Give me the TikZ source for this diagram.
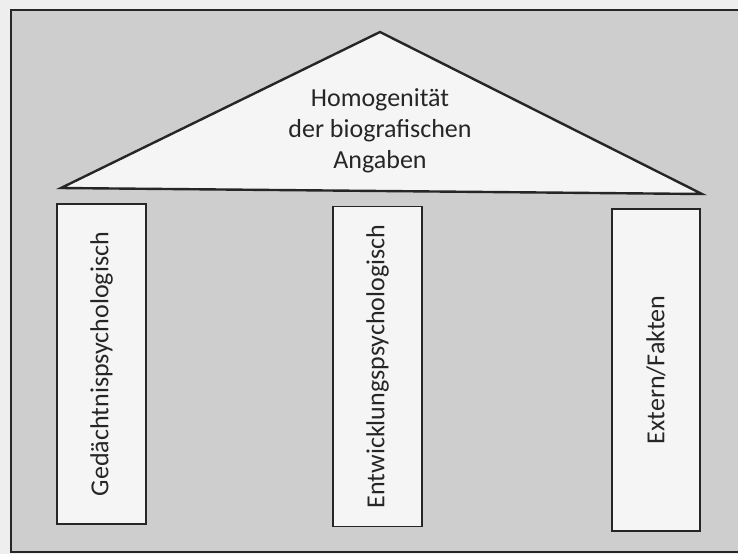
\documentclass[tikz,border=0pt]{standalone}
\usepackage{fontspec}
\setmainfont{Carlito}
\definecolor{scangray}{RGB}{206,206,206}
\definecolor{paperwhite}{RGB}{245,245,245}
\definecolor{margin}{RGB}{238,238,238}
\definecolor{inkgray}{RGB}{38,38,38}
\usetikzlibrary{positioning}

\begin{document}
\begin{tikzpicture}[x=1pt, y=-1pt,
    pillar/.style={rectangle, draw=inkgray, line width=1.8pt, fill=paperwhite, rotate=90,
        minimum width=320pt, minimum height=89pt, inner sep=0pt, text=inkgray,
        font=\fontsize{26}{32}\selectfont}]
    \useasboundingbox[fill=margin] (0,0) rectangle (738,554);

    % Frame
    \draw[draw=inkgray, line width=1.8pt, fill=scangray] (11,10) rectangle (748,552);

    % Roof
    \coordinate (apex) at (380,32);
    \coordinate (eaveleft) at (61,188);
    \coordinate (eaveright) at (702,194);
    \draw[draw=inkgray, line width=2.4pt, fill=paperwhite] (apex) -- (eaveright) -- (eaveleft) -- cycle;
    \node[align=center, text=inkgray, font=\fontsize{26}{31}\selectfont] (roof) at (380,131)
        {Homogenität\\der biografischen\\Angaben};

    % Pillars
    \node[pillar] (memory) at (101.5,364) {Gedächtnispsychologisch};
    \node[pillar] (development) at (377.5,366.5) {Entwicklungspsychologisch};
    \node[pillar, minimum width=322pt, minimum height=88pt] (facts) at (656,370) {Extern/Fakten};
\end{tikzpicture}
\end{document}
